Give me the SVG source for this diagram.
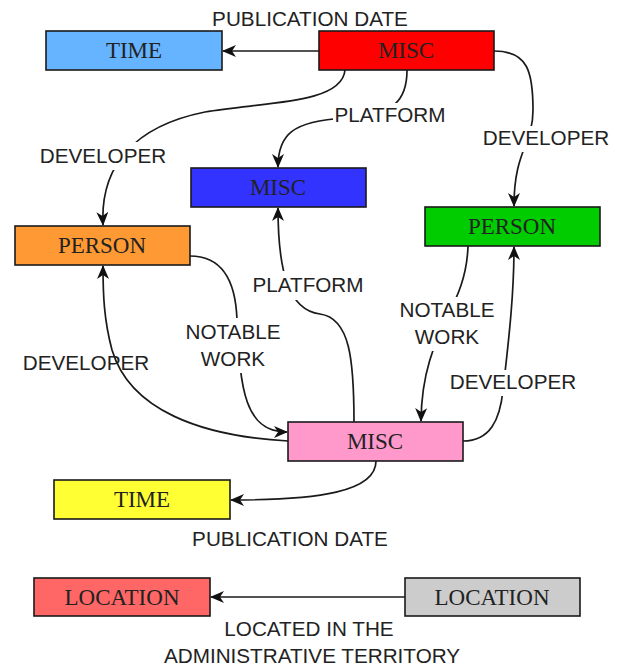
<svg xmlns="http://www.w3.org/2000/svg" width="617" height="669" viewBox="0 0 617 669">
<style>
.box{stroke:#1a1a1a;stroke-width:1.6}
.nt{font-family:"Liberation Serif",serif;font-size:23px;fill:#222;text-anchor:middle}
.lb{font-family:"Liberation Sans",Arial,sans-serif;font-size:20.7px;fill:#222;text-anchor:middle}
.bg{fill:#ffffff}
.e{fill:none;stroke:#1a1a1a;stroke-width:1.7;marker-end:url(#ah)}
</style>
<defs>
<marker id="ah" markerUnits="userSpaceOnUse" markerWidth="14" markerHeight="12" refX="13" refY="6" orient="auto">
<path d="M0,0 L14,6 L0,12 L4,6 z" fill="#111"/>
</marker>
</defs>
<rect width="617" height="669" fill="#ffffff"/>
<g id="edges">
<path class="e" d="M319,51 L223,51"/>
<path class="e" d="M345,70 C342,105 260,102 205,112 C135,126 100,165 103,225"/>
<path class="e" d="M407,70 C407,100 395,115 345,118 C292,121 278,135 278,167"/>
<path class="e" d="M494,51 C528,51 533,72 533,110 C533,145 514,150 514,206"/>
<path class="e" d="M354,422 C354,360 350,318 320,314 C288,310 278,270 278,208"/>
<path class="e" d="M190,256 C228,256 236,290 237,320 C240,390 245,432 287,432"/>
<path class="e" d="M288,441 C200,436 130,410 112,350 C104,320 103,295 103,266"/>
<path class="e" d="M468,246 C466,312 422,330 421,421"/>
<path class="e" d="M463,441 C490,441 500,420 503,390 C510,330 514,290 514,247"/>
<path class="e" d="M376,461 C376,492 318,500 231,500"/>
<path class="e" d="M405,597 L211,597"/>
</g>
<g id="labels">
<text class="lb" x="310" y="26">PUBLICATION DATE</text>
<rect class="bg" x="333" y="103" width="116" height="24"/>
<text class="lb" x="390" y="122">PLATFORM</text>
<rect class="bg" x="38" y="142" width="131" height="28"/>
<text class="lb" x="103" y="163">DEVELOPER</text>
<rect class="bg" x="481" y="126" width="131" height="26"/>
<text class="lb" x="546" y="145">DEVELOPER</text>
<rect class="bg" x="250" y="271" width="117" height="29"/>
<text class="lb" x="308" y="292">PLATFORM</text>
<rect class="bg" x="184" y="318" width="99" height="55"/>
<text class="lb" x="233" y="339">NOTABLE</text>
<text class="lb" x="233" y="366">WORK</text>
<text class="lb" x="86" y="370">DEVELOPER</text>
<rect class="bg" x="398" y="297" width="99" height="54"/>
<text class="lb" x="447" y="317">NOTABLE</text>
<text class="lb" x="447" y="344">WORK</text>
<rect class="bg" x="448" y="370" width="131" height="26"/>
<text class="lb" x="513" y="389">DEVELOPER</text>
<text class="lb" x="290" y="546">PUBLICATION DATE</text>
<text class="lb" x="309" y="636">LOCATED IN THE</text>
<text class="lb" x="312" y="663">ADMINISTRATIVE TERRITORY</text>
</g>
<g id="time1"><rect class="box" x="46" y="31" width="176" height="39" fill="#66b3ff"/><text class="nt" x="134" y="58">TIME</text></g>
<g id="misc1"><rect class="box" x="319" y="31" width="175" height="39" fill="#ff0000"/><text class="nt" x="406" y="58">MISC</text></g>
<g id="misc2"><rect class="box" x="191" y="168" width="175" height="39" fill="#3333ff"/><text class="nt" x="278" y="195">MISC</text></g>
<g id="person1"><rect class="box" x="15" y="226" width="175" height="39" fill="#ff9933"/><text class="nt" x="102" y="253">PERSON</text></g>
<g id="person2"><rect class="box" x="425" y="207" width="175" height="39" fill="#00cc00"/><text class="nt" x="512" y="234">PERSON</text></g>
<g id="misc3"><rect class="box" x="288" y="422" width="175" height="39" fill="#ff99cc"/><text class="nt" x="375" y="449">MISC</text></g>
<g id="time2"><rect class="box" x="54" y="480" width="176" height="39" fill="#ffff33"/><text class="nt" x="142" y="507">TIME</text></g>
<g id="location1"><rect class="box" x="34" y="578" width="176" height="38" fill="#ff6666"/><text class="nt" x="122" y="605">LOCATION</text></g>
<g id="location2"><rect class="box" x="405" y="578" width="175" height="38" fill="#cccccc"/><text class="nt" x="492" y="605">LOCATION</text></g>
</svg>
